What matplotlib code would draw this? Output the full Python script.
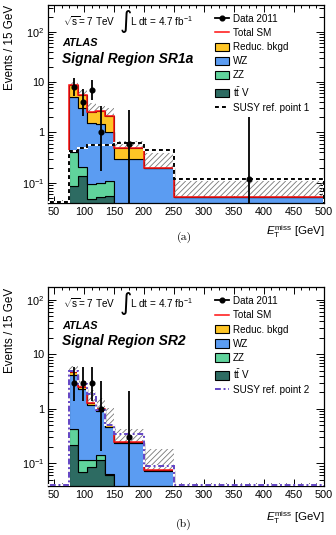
import numpy as np
import matplotlib
matplotlib.use("Agg")
import matplotlib.pyplot as plt
from matplotlib.lines import Line2D
from matplotlib.patches import Patch
from matplotlib.ticker import MultipleLocator, LogLocator, FuncFormatter, NullFormatter

plt.rcParams['font.family'] = ['Liberation Sans', 'DejaVu Sans']
plt.rcParams['mathtext.fontset'] = 'custom'
plt.rcParams['mathtext.rm'] = 'Liberation Sans'
plt.rcParams['mathtext.it'] = 'Liberation Sans:italic'
plt.rcParams['mathtext.bf'] = 'Liberation Sans:bold'
plt.rcParams['hatch.linewidth'] = 0.6

# bin edges in GeV, SUSY curves also have the empty 40-75 bin
edges = [75, 90, 105, 120, 135, 150, 200, 250, 500]
susy_edges = [40, 75, 90, 105, 120, 135, 150, 200, 250, 500]

# SR1a (events / 15 GeV)
reduc_a = [3.6, 2.5, 0.95, 1.15, 1.1, 0.2, 0.0, 0.001]
wz_a = [4.7, 2.8, 1.45, 1.4, 0.92, 0.3, 0.2, 0.051]
zz_a = [0.32, 0.075, 0.047, 0.048, 0.055, 0.0, 0.0, 0.0]
ttv_a = [0.085, 0.135, 0.048, 0.052, 0.055, 0.0, 0.0, 0.0]
sm_up_a = [10.0, 7.0, 3.9, 3.3, 3.1, 0.68, 0.39, 0.108]
susy_a = [0.0, 0.42, 0.48, 0.55, 0.56, 0.57, 0.62, 0.445, 0.116]
data_x_a = [82.5, 97.5, 112.5, 127.5, 175, 375]
data_y_a = [8, 4, 7, 1, 0.6, 0.12]
data_lo_a = [2.8, 1.9, 2.6, 0.83, 0.59, 0.119]
data_hi_a = [3.9, 3.2, 3.8, 2.3, 2.2, 1.9]

# SR2
reduc_b = [0.6, 0.2, 0.1, 0.08, 0.03, 0.011, 0.005, 0.0]
wz_b = [3.78, 2.18, 1.085, 0.76, 0.405, 0.235, 0.072, 0.0]
zz_b = [0.205, 0.047, 0.029, 0.024, 0.003, 0.0, 0.0, 0.0]
ttv_b = [0.215, 0.07, 0.086, 0.117, 0.062, 0.0, 0.0, 0.0]
sm_up_b = [6.0, 3.2, 2.2, 1.55, 1.03, 0.43, 0.18, 0.0]
susy_b = [0.0, 5.0, 2.8, 1.9, 0.95, 0.5, 0.35, 0.09, 0.0]
data_x_b = [82.5, 97.5, 112.5, 127.5, 175]
data_y_b = [3, 3, 3, 1, 0.3]
data_lo_b = [1.63, 1.63, 1.63, 0.83, 0.299]
data_hi_b = [2.9, 2.9, 2.9, 2.3, 1.8]

C_REDUC = '#fec526'
C_WZ = '#5b9cf2'
C_ZZ = '#60d39c'
C_TTV = '#2d6b62'

W, H = 336, 535


def fx(x):
    return x / W


def fy(y):
    return 1 - y / H


def ytick_fmt(v, pos):
    labels = {0.1: '10$^{-1}$', 1.0: '1', 10.0: '10', 100.0: '10$^{2}$'}
    for k, s in labels.items():
        if abs(v - k) < 1e-9 * k:
            return s
    return ''


def draw_panel(ax, reduc, wz, zz, ttv, sm_up, susy, dx, dy, dlo, dhi,
               ylim, susy_label, susy_color, susy_dash):
    floor = ylim[0] * 0.3
    bottom = np.zeros(len(edges) - 1)
    for vals, col in [(ttv, C_TTV), (zz, C_ZZ), (wz, C_WZ), (reduc, C_REDUC)]:
        top = bottom + np.array(vals)
        ax.stairs(np.maximum(top, floor), edges, baseline=np.maximum(bottom, floor),
                  fill=True, facecolor=col, edgecolor='black', lw=0.8, zorder=2)
        bottom = top
    total = bottom

    # uncertainty band above the total
    ax.stairs(np.maximum(sm_up, floor), edges, baseline=np.maximum(total, floor),
              fill=True, facecolor='none', edgecolor='#777777', hatch='//////',
              lw=0, zorder=3)

    n = int(np.max(np.nonzero(total > 1e-6))) + 1
    ax.stairs(total[:n], edges[:n + 1], color='#ff1010', lw=1.1, zorder=4)

    # SUSY reference curve, zero bins drawn along the bottom of the frame
    s = np.where(np.array(susy) > 0, susy, ylim[0] * 1.04)
    ax.stairs(s, susy_edges, color='white', lw=1.4, zorder=5)
    ax.stairs(s, susy_edges, color=susy_color, lw=1.4, zorder=6,
              linestyle=(0, susy_dash))

    ax.errorbar(dx, dy, yerr=[dlo, dhi], fmt='o', color='black', ms=3.4,
                elinewidth=1.3, capsize=0, zorder=10)

    ax.set_yscale('log')
    ax.set_xlim(40, 500)
    ax.set_ylim(*ylim)
    ax.xaxis.set_major_locator(MultipleLocator(50))
    ax.xaxis.set_minor_locator(MultipleLocator(12.5))
    ax.yaxis.set_major_locator(LogLocator(base=10))
    ax.yaxis.set_minor_locator(LogLocator(base=10, subs=np.arange(2, 10)))
    ax.yaxis.set_major_formatter(FuncFormatter(ytick_fmt))
    ax.yaxis.set_minor_formatter(NullFormatter())
    ax.tick_params(which='both', direction='in', top=True, right=True,
                   labelsize=7.8, width=0.7)
    ax.tick_params(axis='x', which='major', length=5, pad=2.5)
    ax.tick_params(axis='x', which='minor', length=2.5)
    ax.tick_params(axis='y', which='major', length=6, pad=2.5)
    ax.tick_params(axis='y', which='minor', length=3.5)
    for sp in ax.spines.values():
        sp.set_linewidth(0.9)

    handles = [
        Line2D([], [], color='black', marker='o', ms=3.4, lw=1.3),
        Line2D([], [], color='#ff1010', lw=1.1),
        Patch(facecolor=C_REDUC, edgecolor='black', lw=0.8),
        Patch(facecolor=C_WZ, edgecolor='black', lw=0.8),
        Patch(facecolor=C_ZZ, edgecolor='black', lw=0.8),
        Patch(facecolor=C_TTV, edgecolor='black', lw=0.8),
        Line2D([], [], color=susy_color, lw=1.4, linestyle=(0, susy_dash)),
    ]
    labels = ['Data 2011', 'Total SM', 'Reduc. bkgd', 'WZ', 'ZZ',
              r't$\bar{\mathrm{t}}$ V', susy_label]
    ax.legend(handles, labels, loc='upper left', bbox_to_anchor=(0.605, 0.955),
              frameon=False, fontsize=7.1, borderpad=0, borderaxespad=0,
              handlelength=1.45, handleheight=0.95, handletextpad=0.35,
              labelspacing=0.42)


def panel_text(top_px, ylim_top_px, region, tag, tag_y, xlab_y):
    fig.text(fx(63), fy(top_px + 16), r'$\sqrt{\mathrm{s}}$= 7 TeV', fontsize=7.2,
             va='center', ha='left')
    fig.text(fx(119.5), fy(top_px + 16), '\u222b', fontsize=17, va='center', ha='left',
             family='DejaVu Sans')
    fig.text(fx(130), fy(top_px + 16), 'L dt = 4.7 fb$^{-1}$', fontsize=7.2,
             va='center', ha='left')
    fig.text(fx(62), fy(top_px + 38.5), 'ATLAS', fontsize=7.8, weight='bold',
             style='italic', va='center', ha='left')
    fig.text(fx(62), fy(top_px + 54), region, fontsize=10, weight='bold',
             style='italic', va='center', ha='left')
    fig.text(fx(10), fy(ylim_top_px), 'Events / 15 GeV', rotation=90, fontsize=8.4,
             va='top', ha='center')
    fig.text(fx(324), fy(xlab_y), r'$E_{\mathrm{T}}^{\mathrm{miss}}$ [GeV]',
             fontsize=8.2, va='center', ha='right')
    fig.text(fx(184), fy(tag_y), tag, fontsize=8.5, family='cmr10',
             va='center', ha='center')


fig = plt.figure(figsize=(W / 100, H / 100), dpi=100)

ax_a = fig.add_axes([fx(48), fy(203.3), 276 / W, 198.3 / H])
draw_panel(ax_a, reduc_a, wz_a, zz_a, ttv_a, sm_up_a, susy_a,
           data_x_a, data_y_a, data_lo_a, data_hi_a, (0.039, 342),
           'SUSY ref. point 1', 'black', (2.0, 1.6))
panel_text(5, 5, 'Signal Region SR1a', '(a)', 237.3, 232)

ax_b = fig.add_axes([fx(48), fy(486.3), 276 / W, 199 / H])
draw_panel(ax_b, reduc_b, wz_b, zz_b, ttv_b, sm_up_b, susy_b,
           data_x_b, data_y_b, data_lo_b, data_hi_b, (0.038, 169),
           'SUSY ref. point 2', '#6244c4', (3.0, 1.4, 1.0, 1.4))
panel_text(287.3, 288, 'Signal Region SR2', '(b)', 524.7, 518)

fig.savefig('out.png', dpi=100)
